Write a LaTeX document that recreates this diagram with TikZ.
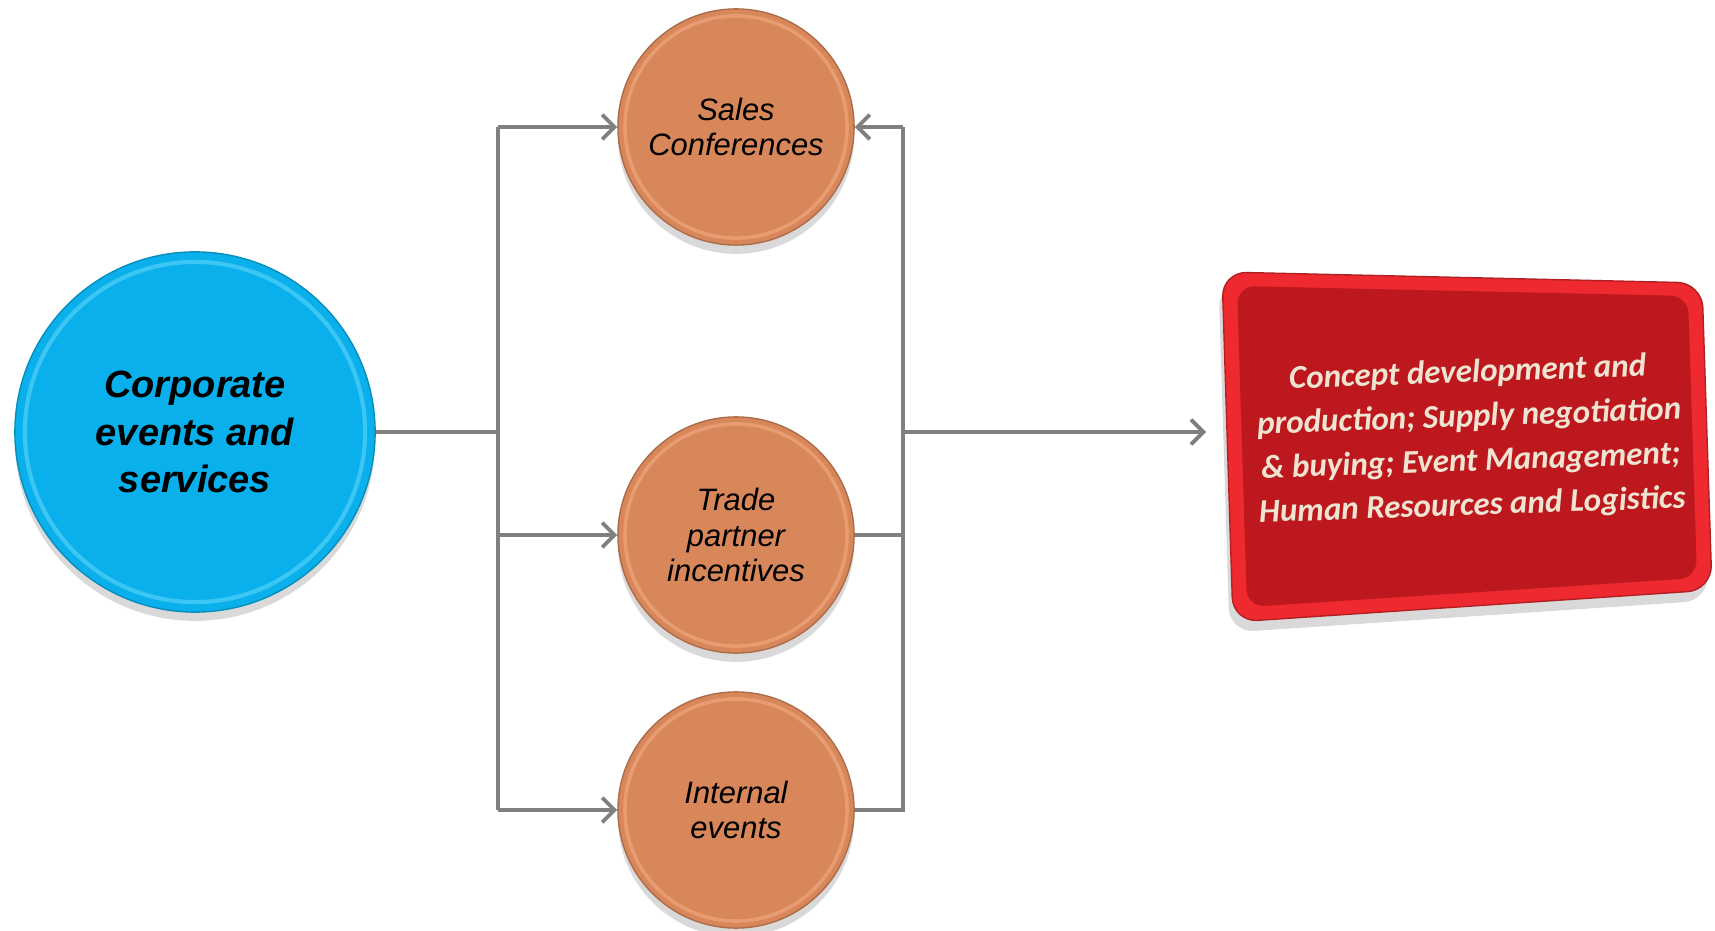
\documentclass[tikz,border=0pt]{standalone}
\usepackage{fontspec}
\newfontfamily\arialfont{Liberation Sans}
\newfontfamily\calfont{Carlito}
\usetikzlibrary{arrows.meta,shadows}

\definecolor{corpblue}{HTML}{0AB0EC}
\definecolor{corprim}{HTML}{3CC6F4}
\definecolor{ballorange}{HTML}{D8875B}
\definecolor{ballrim}{HTML}{E89C72}
\definecolor{offerred}{HTML}{BC181D}
\definecolor{offeredge}{HTML}{EE2A30}
\definecolor{offertext}{HTML}{EFE4D2}
\definecolor{linkgray}{HTML}{7F7F7F}

\tikzset{
  ball/.style={circle,inner sep=0pt,align=center,
    drop shadow={shadow xshift=0pt,shadow yshift=-2.5pt,opacity=0.3}},
  bigball/.style={ball,fill=corpblue,draw=corpblue!80!black,minimum size=3.6cm,
    font=\arialfont\bfseries\itshape\fontsize{10.8}{13.4}\selectfont,
    path picture={\draw[corprim,line width=1.2pt] (path picture bounding box.center) circle (1.7cm);}},
  smallball/.style={ball,fill=ballorange,draw=ballorange!80!black,minimum size=2.36cm,
    font=\arialfont\itshape\fontsize{8.8}{10}\selectfont,
    path picture={\draw[ballrim,line width=1pt] (path picture bounding box.center) circle (1.11cm);}},
  link/.style={linkgray,line width=1.1pt},
  arrowlink/.style={-{Straight Barb[length=3.5pt,width=7pt]}}
}

\begin{document}
\begin{tikzpicture}[x=0.01cm,y=-0.01cm]
\useasboundingbox (0,0) rectangle (1715,931);

% circles
\node[bigball] (corp) at (195,432) {Corporate\\events and\\services};
\node[smallball] (sales) at (736,127) {Sales\\Conferences};
\node[smallball] (trade) at (736,535) {Trade\\partner\\incentives};
\node[smallball] (internal) at (736,810) {Internal\\events};

% red box
\draw[fill=offeredge,draw=offeredge!75!black,rounded corners=7pt,
  drop shadow={shadow xshift=-1pt,shadow yshift=-3pt,opacity=0.3}]
  (1222,272) -- (1702,283) -- (1712,590) -- (1233,622) -- cycle;
\fill[offerred,rounded corners=5pt] (1237,286) -- (1688,296) -- (1697,578) -- (1247,607) -- cycle;
\node[rotate=2,align=center,text=offertext,
  font=\calfont\bfseries\itshape\fontsize{9.4}{12.6}\selectfont] (offer) at (1470,440)
  {Concept development and\\production; Supply negotiation\\\& buying; Event Management;\\Human Resources and Logistics};

% connectors
\coordinate (lbus) at (498,432);
\coordinate (rbus) at (903,432);
\coordinate (offerin) at (1206,432);

\draw[link] (corp.east) -- (lbus);
\draw[link] (lbus |- sales) -- (lbus |- internal);
\foreach \n in {sales,trade,internal}
  \draw[link,arrowlink] (lbus |- \n) -- (\n.west);

\draw[link] (trade.east) -- (rbus |- trade);
\draw[link] (internal.east) -- (rbus |- internal) -- (rbus |- sales);
\draw[link,arrowlink] (rbus |- sales) -- (sales.east);
\draw[link,arrowlink] (rbus) -- (offerin);

\end{tikzpicture}
\end{document}
